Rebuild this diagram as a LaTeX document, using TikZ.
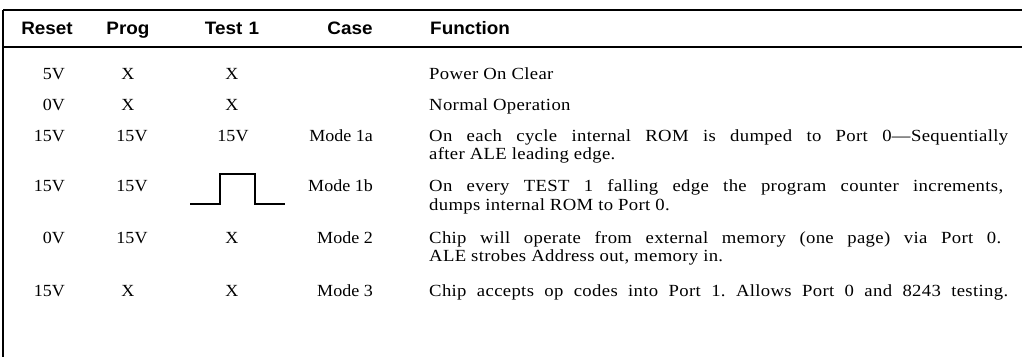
\documentclass[tikz,border=0pt]{standalone}
\usepackage{fontspec}
\setmainfont{Liberation Serif}[FakeStretch=1.06]
\newfontfamily\widefont{Liberation Serif}[FakeStretch=1.1, LetterSpace=2]
\newfontfamily\hdfont{Liberation Sans}[FakeStretch=1.05]
\frenchspacing
\tikzset{
  rule/.style={line width=1.1pt, black},
  hd/.style={font=\hdfont\bfseries\fontsize{18}{21}\selectfont, inner sep=0pt},
  cell/.style={font=\fontsize{17}{19}\selectfont, inner sep=0pt},
  fn/.style={font=\widefont\fontsize{17}{19}\selectfont\frenchspacing, inner sep=0pt, anchor=base west},
  pulse/.style={line width=1.7pt, black}
}
\newcommand{\fullline}[2]{\makebox[#1][s]{#2}}
\begin{document}
\begin{tikzpicture}[x=1pt,y=-1pt]
\useasboundingbox (0,0) rectangle (1022,357);
% table rules
\coordinate (tl) at (3,10);
\coordinate (tr) at (1022,10);
\coordinate (hl) at (3,47);
\coordinate (hr) at (1022,47);
\coordinate (bl) at (3,357);
\draw[rule] (tl) -- (tr);
\draw[rule] (hl) -- (hr);
\draw[rule] (tl) -- (bl);
% header
\node[hd, anchor=base] (hreset) at (47,34) {Reset};
\node[hd, anchor=base] (hprog) at (128,34) {Prog};
\node[hd, anchor=base] (htest) at (232,34) {Test\hspace{0.35em}1};
\node[hd, anchor=base] (hcase) at (350,34) {Case};
\node[hd, anchor=base west] (hfunc) at (430,34) {Function};
% row 1
\node[cell, anchor=base east] (r1a) at (65,79) {5V};
\node[cell, anchor=base] (r1b) at (128,79) {X};
\node[cell, anchor=base] (r1c) at (232,79) {X};
\node[fn] (r1f) at (429,79) {Power On Clear};
% row 2
\node[cell, anchor=base east] (r2a) at (65,110) {0V};
\node[cell, anchor=base] (r2b) at (128,110) {X};
\node[cell, anchor=base] (r2c) at (232,110) {X};
\node[fn] (r2f) at (429,110) {Normal Operation};
% row 3
\node[cell, anchor=base east] (r3a) at (65,141) {15V};
\node[cell, anchor=base] (r3b) at (132,141) {15V};
\node[cell, anchor=base] (r3c) at (233,141) {15V};
\node[cell, anchor=base east] (r3d) at (373,141) {Mode 1a};
\node[fn] (r3f) at (429,141) {\fullline{579pt}{On each cycle internal ROM is dumped to Port 0—Sequentially}};
\node[fn] (r3g) at (429,159) {after ALE leading edge.};
% row 4
\node[cell, anchor=base east] (r4a) at (65,191) {15V};
\node[cell, anchor=base] (r4b) at (132,191) {15V};
\coordinate (p0) at (190,204);
\coordinate (p1) at (220,204);
\coordinate (p2) at (220,174);
\coordinate (p3) at (255,174);
\coordinate (p4) at (255,204);
\coordinate (p5) at (285,204);
\draw[pulse] (p0) -- (p1) -- (p2) -- (p3) -- (p4) -- (p5);
\node[cell, anchor=base east] (r4d) at (373,191) {Mode 1b};
\node[fn] (r4f) at (429,191) {\fullline{574pt}{On every TEST 1 falling edge the program counter increments,}};
\node[fn] (r4g) at (429,210) {dumps internal ROM to Port 0.};
% row 5
\node[cell, anchor=base east] (r5a) at (65,243) {0V};
\node[cell, anchor=base] (r5b) at (132,243) {15V};
\node[cell, anchor=base] (r5c) at (232,243) {X};
\node[cell, anchor=base east] (r5d) at (373,243) {Mode 2};
\node[fn] (r5f) at (429,243) {\fullline{572pt}{Chip will operate from external memory (one page) via Port 0.}};
\node[fn] (r5g) at (429,261) {ALE strobes Address out, memory in.};
% row 6
\node[cell, anchor=base east] (r6a) at (65,296) {15V};
\node[cell, anchor=base] (r6b) at (128,296) {X};
\node[cell, anchor=base] (r6c) at (232,296) {X};
\node[cell, anchor=base east] (r6d) at (373,296) {Mode 3};
\node[fn] (r6f) at (429,296) {\fullline{579pt}{Chip accepts op codes into Port 1. Allows Port 0 and 8243 testing.}};
\end{tikzpicture}
\end{document}
